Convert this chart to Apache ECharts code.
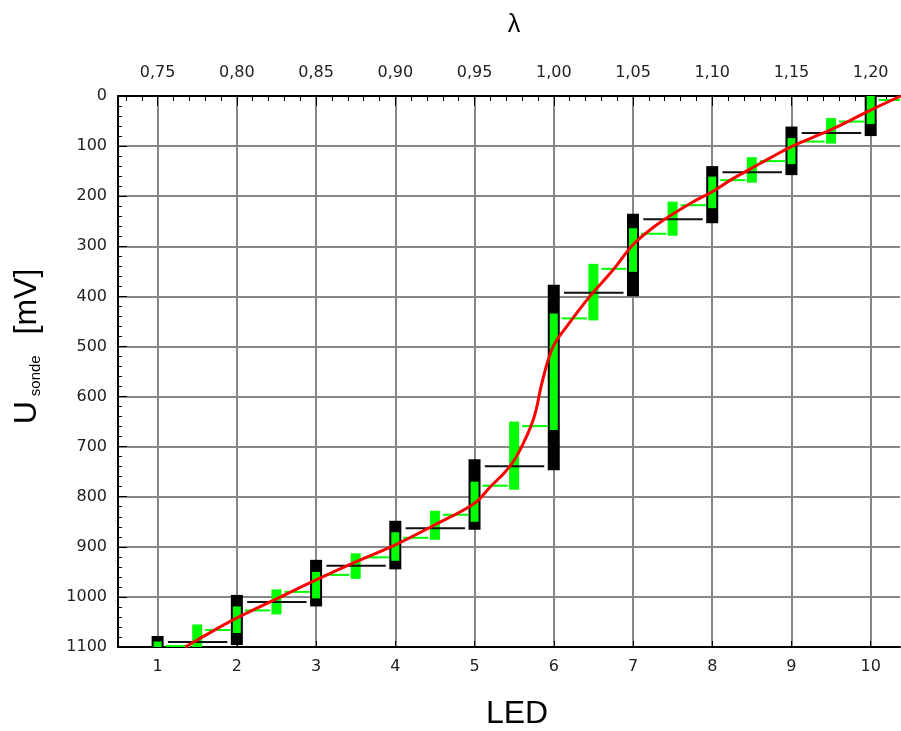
<!DOCTYPE html>
<html>

<head>
    <meta charset="utf-8">
    <title>U sonde / LED</title>
    <script src="https://cdn.jsdelivr.net/npm/echarts@6.0.0/dist/echarts.min.js"></script>
</head>

<body style="margin:0; background:#fff;">
    <div id="chart" style="width: 901px; height: 731px;"></div>

    <script>
        // tick labels
        var ledTicks = [1, 2, 3, 4, 5, 6, 7, 8, 9, 10];
        var lambdaLabels = ['0,75', '0,80', '0,85', '0,90', '0,95', '1,00', '1,05', '1,10', '1,15', '1,20'];
        // minor ticks of the lambda axis (every 0,01 -> 0.2 LED)
        var lambdaMinor = [];
        for (var k = 3; k <= 51; k++) {
            if (k % 5) lambdaMinor.push(k / 5);
        }

        // black boxes at each LED: [led, top mV, bottom mV]
        var blackBoxes = [
            [1, 1078, 1120], [2, 996, 1096], [3, 926, 1019], [4, 848, 945], [5, 725, 866],
            [6, 377, 747], [7, 235, 400], [8, 140, 254], [9, 61, 158], [10, -10, 80]
        ];
        // green part inside the black boxes
        var blackInner = [
            [1, 1089, 1120], [2, 1019, 1072], [3, 950, 1003], [4, 871, 928], [5, 770, 850],
            [6, 434, 667], [7, 264, 351], [8, 161, 224], [9, 84, 136], [10, -10, 56]
        ];
        // green boxes between the LEDs
        var greenBoxes = [
            [1.5, 1055, 1120], [2.5, 985, 1035], [3.5, 913, 964], [4.5, 828, 886], [5.5, 650, 786],
            [6.5, 335, 448], [7.5, 211, 279], [8.5, 122, 173], [9.5, 44, 95]
        ];
        // black level lines right of each LED box: [led, mV]
        var blackLines = [
            [1, 1090], [2, 1010], [3, 938], [4, 863], [5, 739], [6, 393], [7, 246], [8, 152], [9, 74]
        ];
        // short green level lines right of each box: [led, mV]
        var greenLines = [
            [1, 1098], [1.5, 1066], [2, 1027], [2.5, 990], [3, 956], [3.5, 921], [4, 882], [4.5, 836],
            [5, 778], [5.5, 659], [6, 444], [6.5, 345], [7, 275], [7.5, 218], [8, 168], [8.5, 130],
            [9, 91], [9.5, 51], [10, 8]
        ];
        // red fit curve: [led, mV]
        var redCurve = [
            [1.35, 1100], [1.5, 1086], [2, 1042], [2.5, 1004], [3, 966], [3.5, 930], [4, 896],
            [4.5, 856], [5, 813], [5.2, 780], [5.4, 748], [5.54, 717], [5.74, 647], [5.86, 567],
            [5.99, 501], [6.16, 461], [6.45, 401], [6.75, 347],
            [7, 297], [7.25, 263], [7.5, 236], [7.75, 212], [8, 191], [8.25, 166], [8.5, 144],
            [8.75, 122], [9, 101], [9.25, 84], [9.5, 67], [9.75, 48], [10, 28], [10.38, 0]
        ];

        function boxRenderer(halfWidth, color) {
            return function (params, api) {
                var a = api.coord([api.value(0), api.value(1)]);
                var b = api.coord([api.value(0), api.value(2)]);
                return {
                    type: 'rect',
                    shape: { x: a[0] - halfWidth, y: a[1], width: halfWidth * 2, height: b[1] - a[1] },
                    style: { fill: color }
                };
            };
        }

        function segRenderer(from, to, color, width) {
            return function (params, api) {
                var a = api.coord([api.value(0) + from, api.value(1)]);
                var b = api.coord([api.value(0) + to, api.value(1)]);
                return {
                    type: 'line',
                    shape: { x1: a[0], y1: a[1], x2: b[0], y2: b[1] },
                    style: { stroke: color, lineWidth: width }
                };
            };
        }

        var gridLine = { show: true, lineStyle: { color: '#878787', width: 2 } };
        var tickFont = { fontFamily: 'DejaVu Sans', fontSize: 16, color: '#222' };
        var titleFont = 'Liberation Sans';

        var chart = echarts.init(document.getElementById('chart'));

        var option = {
            animation: false,
            backgroundColor: '#fff',
            grid: { left: 118, right: 1, top: 96, bottom: 84, outerBoundsMode: 'none' },
            xAxis: [
                {
                    type: 'value', position: 'bottom', min: 0.5, max: 10.37,
                    name: 'LED', nameLocation: 'middle', nameGap: 51,
                    nameTextStyle: { fontFamily: titleFont, fontSize: 32, color: '#000', padding: [0, 0, 0, 16] },
                    axisLine: { onZero: false, lineStyle: { color: '#000', width: 2 } },
                    axisTick: { inside: true, length: 6, customValues: ledTicks, lineStyle: { color: '#000' } },
                    axisLabel: Object.assign({ customValues: ledTicks, margin: 12 }, tickFont),
                    splitLine: gridLine
                },
                {
                    type: 'value', position: 'top', min: 0.5, max: 10.37,
                    name: 'λ', nameLocation: 'middle', nameGap: 58,
                    nameTextStyle: { fontFamily: titleFont, fontSize: 25, color: '#000', padding: [0, 0, 0, 10] },
                    axisLine: { onZero: false, lineStyle: { color: '#000', width: 2 } },
                    axisTick: { inside: true, length: 10, customValues: ledTicks, lineStyle: { color: '#000' } },
                    axisLabel: Object.assign({
                        customValues: ledTicks, margin: 15,
                        formatter: function (v) { return lambdaLabels[Math.round(v) - 1]; }
                    }, tickFont),
                    splitLine: { show: false }
                },
                {
                    type: 'value', position: 'top', min: 0.5, max: 10.37,
                    axisLine: { show: false, onZero: false },
                    axisTick: { inside: true, length: 5, customValues: lambdaMinor, lineStyle: { color: '#000' } },
                    axisLabel: { show: false },
                    splitLine: { show: false }
                }
            ],
            yAxis: {
                type: 'value', inverse: true, min: 0, max: 1100, interval: 100,
                name: '{a|U}{b|sonde}{a| [mV]}', nameLocation: 'middle', nameGap: 75, nameRotate: 90,
                nameTextStyle: {
                    padding: [0, 0, 0, 53],
                    rich: {
                        a: { fontFamily: titleFont, fontSize: 32, lineHeight: 32, color: '#000', verticalAlign: 'top', padding: [0, 3, 0, 0] },
                        b: {
                            fontFamily: titleFont, fontSize: 15, lineHeight: 15, color: '#000',
                            verticalAlign: 'bottom', padding: [23, 12, 0, 2]
                        }
                    }
                },
                axisLine: { show: true, onZero: false, lineStyle: { color: '#000', width: 2 } },
                axisTick: { inside: true, length: 9, lineStyle: { color: '#000' } },
                minorTick: { show: true, splitNumber: 5, length: 4, lineStyle: { color: '#000' } },
                axisLabel: Object.assign({
                    margin: 11,
                    formatter: function (v) { return String(v); }
                }, tickFont),
                splitLine: gridLine
            },
            series: [
                {
                    type: 'custom', clip: true, z: 2,
                    renderItem: boxRenderer(6, '#000'),
                    encode: { x: 0, y: [1, 2] },
                    data: blackBoxes
                },
                {
                    type: 'custom', clip: true, z: 3,
                    renderItem: boxRenderer(4, '#00ff00'),
                    encode: { x: 0, y: [1, 2] },
                    data: blackInner
                },
                {
                    type: 'custom', clip: true, z: 3,
                    renderItem: boxRenderer(5, '#00ff00'),
                    encode: { x: 0, y: [1, 2] },
                    data: greenBoxes
                },
                {
                    type: 'custom', clip: true, z: 4,
                    renderItem: segRenderer(0.13, 0.88, '#111', 2),
                    encode: { x: 0, y: 1 },
                    data: blackLines
                },
                {
                    type: 'custom', clip: true, z: 4,
                    renderItem: segRenderer(0.1, 0.42, '#00ff00', 2),
                    encode: { x: 0, y: 1 },
                    data: greenLines
                },
                {
                    type: 'line', z: 5, smooth: 0.4, showSymbol: false, clip: true,
                    lineStyle: { color: '#ff0000', width: 3 },
                    data: redCurve
                }
            ]
        };

        chart.setOption(option);
    </script>
</body>

</html>
